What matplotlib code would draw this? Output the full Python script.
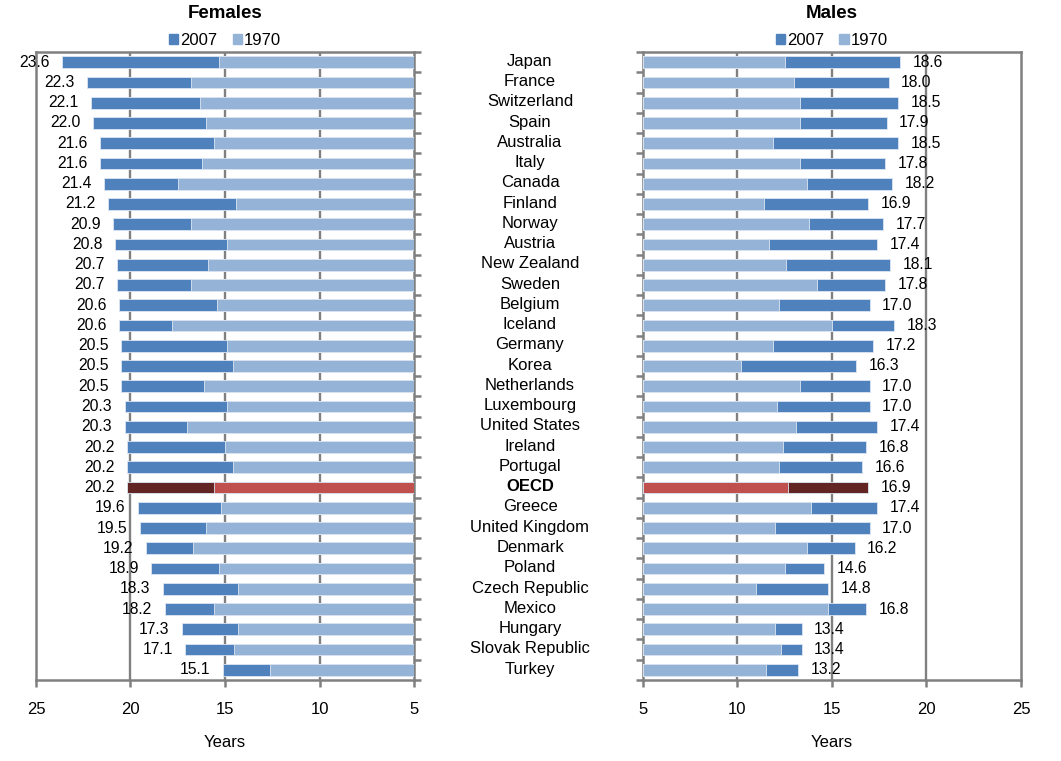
import numpy as np
import matplotlib
matplotlib.use("Agg")
import matplotlib.pyplot as plt
import matplotlib.transforms as mtransforms
from matplotlib.patches import Patch

plt.rcParams['font.family'] = ['Liberation Sans', 'DejaVu Sans']

countries = ["Japan", "France", "Switzerland", "Spain", "Australia", "Italy", "Canada",
             "Finland", "Norway", "Austria", "New Zealand", "Sweden", "Belgium", "Iceland",
             "Germany", "Korea", "Netherlands", "Luxembourg", "United States", "Ireland",
             "Portugal", "OECD", "Greece", "United Kingdom", "Denmark", "Poland",
             "Czech Republic", "Mexico", "Hungary", "Slovak Republic", "Turkey"]

fem_2007 = [23.6, 22.3, 22.1, 22.0, 21.6, 21.6, 21.4, 21.2, 20.9, 20.8, 20.7, 20.7, 20.6,
            20.6, 20.5, 20.5, 20.5, 20.3, 20.3, 20.2, 20.2, 20.2, 19.6, 19.5, 19.2, 18.9,
            18.3, 18.2, 17.3, 17.1, 15.1]
fem_1970 = [15.3, 16.8, 16.3, 16.0, 15.6, 16.2, 17.5, 14.4, 16.8, 14.9, 15.9, 16.8, 15.4,
            17.8, 14.9, 14.6, 16.1, 14.9, 17.0, 15.0, 14.6, 15.6, 15.2, 16.0, 16.7, 15.3,
            14.3, 15.6, 14.3, 14.5, 12.6]

male_2007 = [18.6, 18.0, 18.5, 17.9, 18.5, 17.8, 18.2, 16.9, 17.7, 17.4, 18.1, 17.8, 17.0,
             18.3, 17.2, 16.3, 17.0, 17.0, 17.4, 16.8, 16.6, 16.9, 17.4, 17.0, 16.2, 14.6,
             14.8, 16.8, 13.4, 13.4, 13.2]
male_1970 = [12.5, 13.0, 13.3, 13.3, 11.9, 13.3, 13.7, 11.4, 13.8, 11.7, 12.6, 14.2, 12.2,
             15.0, 11.9, 10.2, 13.3, 12.1, 13.1, 12.4, 12.2, 12.7, 13.9, 12.0, 13.7, 12.5,
             11.0, 14.8, 12.0, 12.3, 11.5]

C07, C70 = "#4F81BD", "#95B3D7"
O07, O70 = "#632523", "#C0504D"
GREY = "#808080"
BASE = 5

n = len(countries)
y = np.arange(n)

fig = plt.figure(figsize=(10.61, 7.61), dpi=100)
ax_f = fig.add_axes([36 / 1061, 1 - 680 / 761, 378 / 1061, 628 / 761])
ax_m = fig.add_axes([642.7 / 1061, 1 - 680 / 761, 378.3 / 1061, 628 / 761])


def draw(ax, v07, v70, side):
    c07 = [O07 if c == "OECD" else C07 for c in countries]
    c70 = [O70 if c == "OECD" else C70 for c in countries]
    ax.barh(y, np.array(v07) - BASE, left=BASE, height=0.58, color=c07,
            edgecolor="#DCE6F2", linewidth=0.6, zorder=3)
    ax.barh(y, np.array(v70) - BASE, left=BASE, height=0.58, color=c70,
            edgecolor="#DCE6F2", linewidth=0.6, zorder=4)
    for yi, v in zip(y, v07):
        off = -9 if side == "left" else 9
        ax.annotate(f"{v:.1f}", (v, yi), xytext=(off, 0), textcoords="offset points",
                    ha="right" if side == "left" else "left", va="center",
                    fontsize=11.3, zorder=6, annotation_clip=False)
    ax.set_ylim(n - 0.5, -0.5)
    ax.set_xticks([5, 10, 15, 20, 25])
    ax.set_xticklabels(["5", "10", "15", "20", "25"], fontsize=12)
    ax.tick_params(axis="x", direction="out", length=5, width=1.8, color=GREY, pad=11)
    ax.set_yticks(np.arange(n + 1) - 0.5)
    ax.set_yticklabels([])
    ax.tick_params(axis="y", direction="out", length=5, width=1.8, color=GREY)
    for s in ax.spines.values():
        s.set_color(GREY)
        s.set_linewidth(1.8)
    for gx in [10, 15, 20]:
        ax.axvline(gx, color=GREY, linewidth=1.7, zorder=1)
    ax.set_xlabel("Years", fontsize=12, labelpad=13)
    ax.legend(handles=[Patch(color=C07, label="2007"), Patch(color=C70, label="1970")],
              loc="lower center", bbox_to_anchor=(0.5, 0.996), ncol=2, frameon=False,
              fontsize=12, handlelength=0.55, handleheight=0.55, handletextpad=0.15,
              columnspacing=0.9, borderaxespad=0.0)


draw(ax_f, fem_2007, fem_1970, "left")
ax_f.set_xlim(25, 5)
ax_f.yaxis.tick_right()
ax_f.set_title("Females", fontsize=13.5, fontweight="bold", pad=24.5)

draw(ax_m, male_2007, male_1970, "right")
ax_m.set_xlim(5, 25)
ax_m.yaxis.tick_left()
ax_m.set_title("Males", fontsize=13.5, fontweight="bold", pad=24.5)

# country names sit in the gap between the two panels
trans = mtransforms.blended_transform_factory(fig.transFigure, ax_f.transData)
for yi, c in zip(y, countries):
    fig.text(530 / 1061, yi - 0.04, c, transform=trans, ha="center", va="center",
             fontsize=12, fontweight="bold" if c == "OECD" else "normal")

fig.savefig("out.png", dpi=100)
